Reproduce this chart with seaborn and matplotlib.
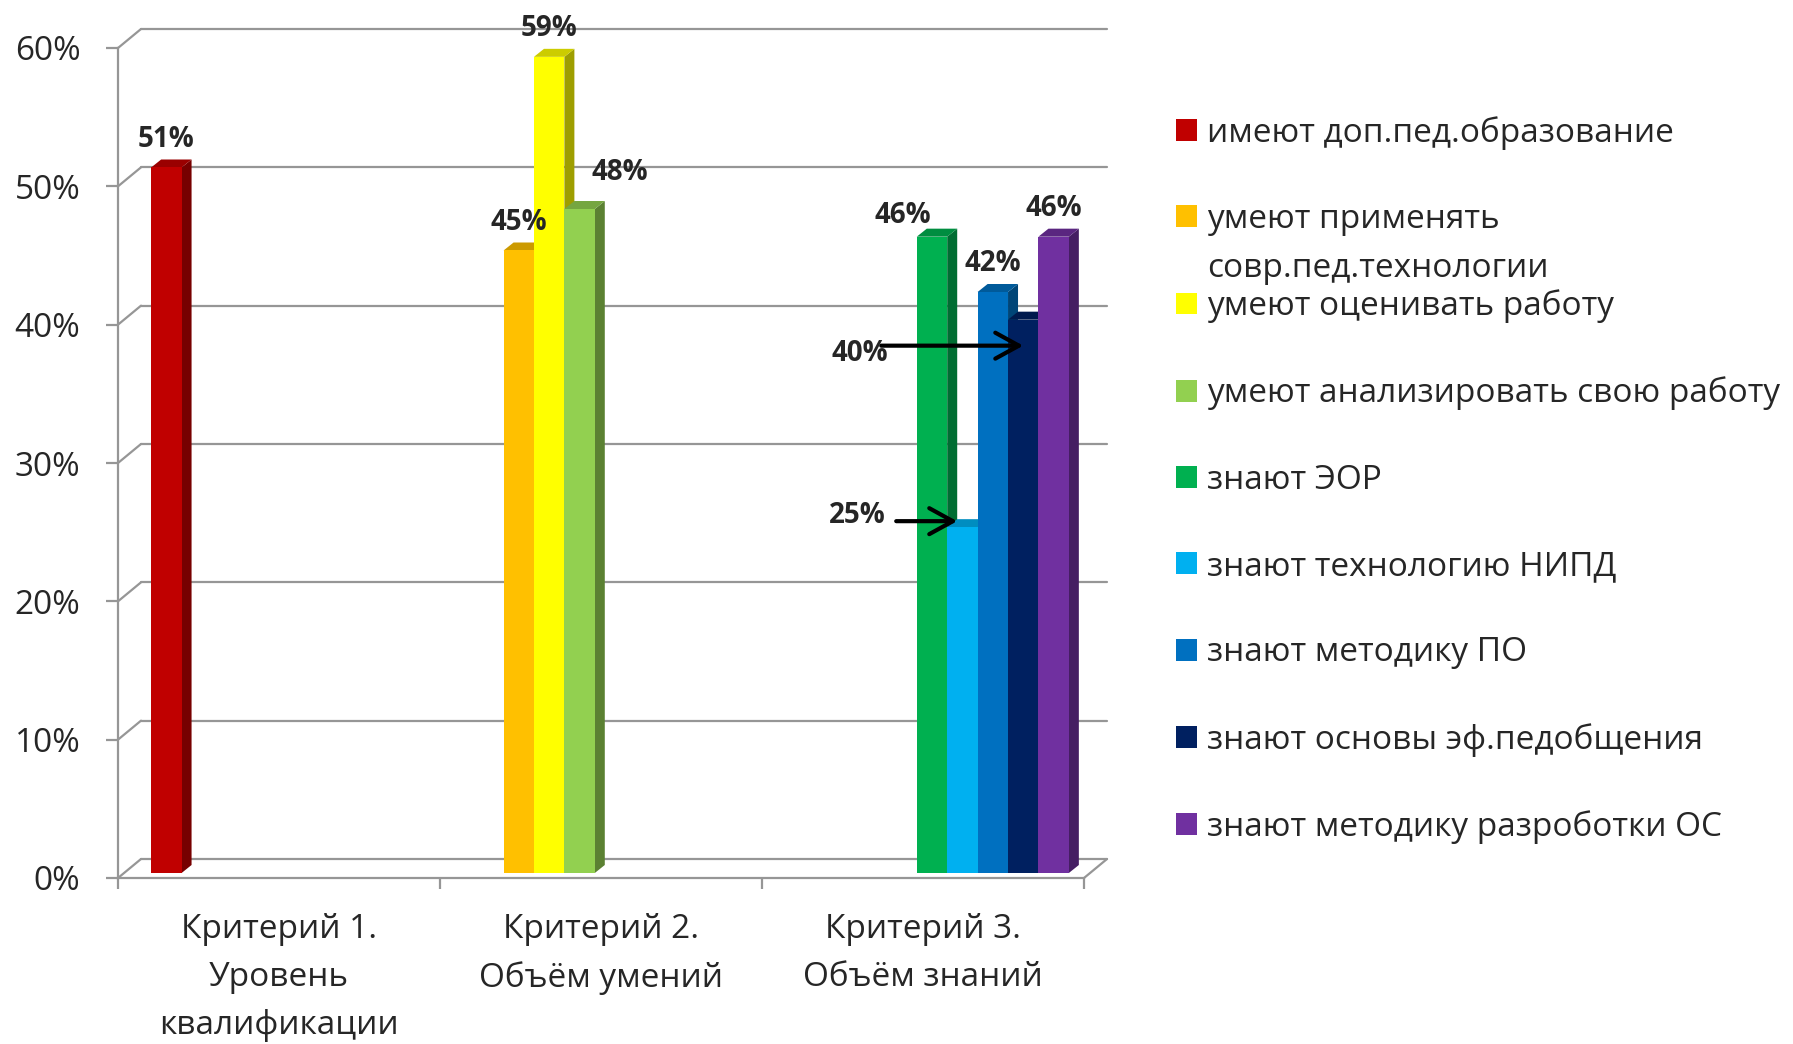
import numpy as np
import pandas as pd
import matplotlib.pyplot as plt
import seaborn as sns
from matplotlib.patches import Patch
from matplotlib.ticker import PercentFormatter
from matplotlib.colors import to_rgb

# Data
CRITERIA = ["Критерий 1.\nУровень\nквалификации",
            "Критерий 2.\nОбъём умений",
            "Критерий 3.\nОбъём знаний"]
SERIES = ["имеют доп.пед.образование",
          "умеют применять совр.пед.технологии",
          "умеют оценивать работу",
          "умеют анализировать свою работу",
          "знают ЭОР",
          "знают технологию НИПД",
          "знают методику ПО",
          "знают основы эф.педобщения",
          "знают методику разроботки ОС"]
SERIES_CRITERION = [0, 1, 1, 1, 2, 2, 2, 2, 2]
VALUES = [0.51, 0.45, 0.59, 0.48, 0.46, 0.25, 0.42, 0.40, 0.46]
COLORS = ["#C00000", "#FFC000", "#FFFF00", "#92D050", "#00B050",
          "#00B0F0", "#0070C0", "#002060", "#7030A0"]
Y_TICKS = [0, 0.1, 0.2, 0.3, 0.4, 0.5, 0.6]

GRID = "#969696"

sns.set_style("white")
plt.rcParams["font.family"] = ["Open Sans", "DejaVu Sans"]


def shade(color, k):
    r, g, b = to_rgb(color)
    return (r * k, g * k, b * k)


#figure in pixels: 1793 x 1044
fig = plt.figure(figsize=(17.93, 10.44), dpi=100)
ax = fig.add_axes([118 / 1793, 166 / 1044, 966 / 1793, 830 / 1044])

df = pd.DataFrame({
    "Критерий": [CRITERIA[i] for i in SERIES_CRITERION],
    "Показатель": SERIES,
    "Доля": VALUES,
})
sns.barplot(data=df, x="Критерий", y="Доля", hue="Показатель",
            order=CRITERIA, hue_order=SERIES, palette=COLORS,
            width=0.85, saturation=1, errorbar=None, dodge=True,
            legend=False, ax=ax)

ax.set_xlim(-0.5, 2.5)
ax.set_ylim(0, 0.6)

# pixel -> data units
xs = 3 / 966
ys = 0.6 / 830

# back wall gridlines + left wall connectors (pseudo 3D)
gdx, gdy = 23 * xs, 19 * ys
for t in Y_TICKS:
    ax.plot([-0.5 + gdx, 2.5 + gdx], [t + gdy, t + gdy], color=GRID,
            lw=1.6, clip_on=False, zorder=1)
    ax.plot([-0.5, -0.5 + gdx], [t, t + gdy], color=GRID, lw=1.6,
            clip_on=False, zorder=1)
ax.plot([2.5, 2.5 + gdx], [0, gdy], color=GRID, lw=1.6, clip_on=False, zorder=1)

# bars: shift into the middle plane, add side and top faces
bdx, bdy = 9 * xs, 5 * ys
ddx, ddy = 10 * xs, 8 * ys
bars = sorted(ax.patches, key=lambda p: p.get_x())
tops = []
for i, p in enumerate(bars):
    p.set_x(p.get_x() + bdx)
    p.set_y(p.get_y() + bdy)
    p.set_edgecolor("none")
    p.set_zorder(3 + i * 0.1 + 0.05)
    x0, y0, w, h = p.get_x(), p.get_y(), p.get_width(), p.get_height()
    c = COLORS[i]
    ax.fill([x0 + w, x0 + w + ddx, x0 + w + ddx, x0 + w],
            [y0, y0 + ddy, y0 + h + ddy, y0 + h],
            color=shade(c, 0.62), lw=0, zorder=3 + i * 0.1, clip_on=False)
    ax.fill([x0, x0 + ddx, x0 + w + ddx, x0 + w],
            [y0 + h, y0 + h + ddy, y0 + h + ddy, y0 + h],
            color=shade(c, 0.8), lw=0, zorder=3 + i * 0.1, clip_on=False)
    tops.append((x0, x0 + w / 2, y0 + h))

# value labels (offsets in points)
label_shift = {3: (29, 6), 4: (-21, -5)}
for i, v in enumerate(VALUES):
    if i in (5, 7):
        continue
    x0, xc, top = tops[i]
    sx, sy = label_shift.get(i, (0, 0))
    ax.annotate(f"{v:.0%}", xy=(xc, top), xytext=(sx, 10 + sy),
                textcoords="offset points", ha="center", va="bottom",
                fontsize=20, fontweight="bold", zorder=10)

# arrowed labels
arrow_kw = dict(arrowstyle="->,head_length=1.0,head_width=0.55", lw=3,
                color="black", mutation_scale=17, shrinkA=0, shrinkB=0)
x0, xc, top = tops[7]
tip = (xc, top - 26 * ys)
ax.annotate("", xy=tip, xytext=(-142, 0), textcoords="offset pixels",
            arrowprops=arrow_kw, zorder=10)
ax.annotate(f"{VALUES[7]:.0%}", xy=tip, xytext=(-135, -8),
            textcoords="offset pixels", ha="right", va="center",
            fontsize=20, fontweight="bold", zorder=10)

x0, xc, top = tops[5]
tip = (x0 + 10 * xs, top + 6 * ys)
ax.annotate("", xy=tip, xytext=(-61, 0), textcoords="offset pixels",
            arrowprops=arrow_kw, zorder=10)
ax.annotate(f"{VALUES[5]:.0%}", xy=tip, xytext=(-72, 6),
            textcoords="offset pixels", ha="right", va="center",
            fontsize=20, fontweight="bold", zorder=10)

# axes styling
for s in ["top", "right"]:
    ax.spines[s].set_visible(False)
for s in ["left", "bottom"]:
    ax.spines[s].set_color(GRID)
    ax.spines[s].set_linewidth(1.6)

ax.set_yticks(Y_TICKS)
ax.yaxis.set_major_formatter(PercentFormatter(1.0, decimals=0))
ax.tick_params(axis="y", length=9, width=1.6, color=GRID, pad=18,
               labelsize=24, left=True)
ax.set_xticks([-0.5, 0.5, 1.5, 2.5], minor=True)
ax.tick_params(axis="x", which="major", length=0, pad=25, labelsize=24)
ax.tick_params(axis="x", which="minor", length=8, width=1.6, color=GRID,
               bottom=True)
for lab in ax.get_xticklabels():
    lab.set_linespacing(1.6)
ax.set_xlabel("")
ax.set_ylabel("")

# legend
handles = [Patch(facecolor=c, edgecolor="none") for c in COLORS]
leg_labels = list(SERIES)
leg_labels[1] = "умеют применять"
leg = fig.legend(handles, leg_labels, loc="upper left",
                 bbox_to_anchor=(1176 / 1793, 1 - 116 / 1044),
                 frameon=False, fontsize=24, handlelength=0.63,
                 handleheight=0.63, handletextpad=0.3, labelspacing=1.6,
                 borderpad=0, borderaxespad=0)
fig.canvas.draw()
ax.annotate("совр.пед.технологии", xy=(0, 0), xycoords=leg.get_texts()[1],
            xytext=(0, -49), textcoords="offset pixels", ha="left",
            va="bottom", fontsize=24, annotation_clip=False)

fig.savefig("out.png", dpi=100)
